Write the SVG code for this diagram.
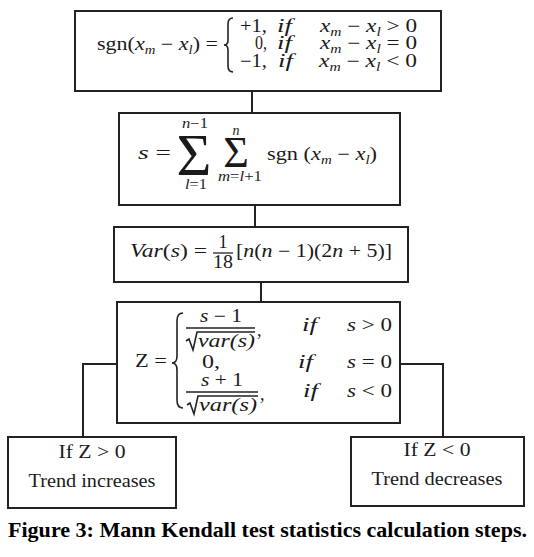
<svg xmlns="http://www.w3.org/2000/svg" width="534" height="557" viewBox="0 0 534 557">
<style>
.b{fill:#fff;stroke:#222;stroke-width:2}
.c{fill:none;stroke:#222;stroke-width:2}
.br{fill:none;stroke:#222;stroke-width:1.6}
.m{font-family:"Liberation Serif",serif;font-size:18px;fill:#1a1a1a}
.sm{font-family:"Liberation Serif",serif;font-size:14px;fill:#1a1a1a}
.i{font-style:italic}
.cap{font-family:"Liberation Serif",serif;font-size:22px;font-weight:bold;fill:#000}
</style>
<rect width="534" height="557" fill="#fff"/>
<g id="connectors">
<path class="c" d="M252,91 V113"/>
<path class="c" d="M255,205 V227"/>
<path class="c" d="M261,282 V302"/>
<path class="c" d="M117,364 H83 V437"/>
<path class="c" d="M400,364 H443 V437"/>
</g>
<g id="sgn">
<rect class="b" x="75" y="11" width="366" height="80"/>
<text class="m" x="97" y="50" textLength="121" lengthAdjust="spacingAndGlyphs">sgn(<tspan class="i">x</tspan><tspan class="i" font-size="12" dy="4">m</tspan><tspan dy="-4"> − </tspan><tspan class="i">x</tspan><tspan class="i" font-size="12" dy="4">l</tspan><tspan dy="-4">) =</tspan></text>
<path class="br" d="M233,18 Q228,18 228,24 L228,40 Q228,45 224,45 Q228,45 228,50 L228,66 Q228,72 233,72"/>
<text class="m" x="240" y="32" textLength="27" lengthAdjust="spacingAndGlyphs">+1,</text><text class="m i" x="277" y="32" textLength="15" lengthAdjust="spacingAndGlyphs">if</text>
<text class="m" x="255" y="49" textLength="12" lengthAdjust="spacingAndGlyphs">0,</text><text class="m i" x="277" y="49" textLength="15" lengthAdjust="spacingAndGlyphs">if</text>
<text class="m" x="240" y="67" textLength="27" lengthAdjust="spacingAndGlyphs">−1,</text><text class="m i" x="278" y="67" textLength="15" lengthAdjust="spacingAndGlyphs">if</text>
<text class="m" x="320" y="32" textLength="97" lengthAdjust="spacingAndGlyphs"><tspan class="i">x</tspan><tspan class="i" font-size="12" dy="4">m</tspan><tspan dy="-4"> − </tspan><tspan class="i">x</tspan><tspan class="i" font-size="12" dy="4">l</tspan><tspan dy="-4"> &gt; 0</tspan></text>
<text class="m" x="320" y="49" textLength="97" lengthAdjust="spacingAndGlyphs"><tspan class="i">x</tspan><tspan class="i" font-size="12" dy="4">m</tspan><tspan dy="-4"> − </tspan><tspan class="i">x</tspan><tspan class="i" font-size="12" dy="4">l</tspan><tspan dy="-4"> = 0</tspan></text>
<text class="m" x="319" y="67" textLength="98" lengthAdjust="spacingAndGlyphs"><tspan class="i">x</tspan><tspan class="i" font-size="12" dy="4">m</tspan><tspan dy="-4"> − </tspan><tspan class="i">x</tspan><tspan class="i" font-size="12" dy="4">l</tspan><tspan dy="-4"> &lt; 0</tspan></text>
</g>
<g id="sum">
<rect class="b" x="119" y="113" width="281" height="92"/>
<text class="m" x="138" y="159" textLength="33" lengthAdjust="spacingAndGlyphs"><tspan class="i">s</tspan> =</text>
<text x="194" y="175" text-anchor="middle" font-family="Liberation Serif,serif" font-size="60" fill="#1a1a1a">Σ</text>
<text class="sm" x="195" y="128" text-anchor="middle" textLength="26" lengthAdjust="spacingAndGlyphs"><tspan class="i">n</tspan>−1</text>
<text class="sm" x="196" y="189" text-anchor="middle" textLength="22" lengthAdjust="spacingAndGlyphs"><tspan class="i">l</tspan>=1</text>
<text x="236" y="167" text-anchor="middle" font-family="Liberation Serif,serif" font-size="44" fill="#1a1a1a">Σ</text>
<text class="sm i" x="236" y="135" text-anchor="middle">n</text>
<text class="sm" x="240" y="181" text-anchor="middle" textLength="44" lengthAdjust="spacingAndGlyphs"><tspan class="i">m</tspan>=<tspan class="i">l</tspan>+1</text>
<text class="m" x="267" y="160" textLength="110" lengthAdjust="spacingAndGlyphs">sgn (<tspan class="i">x</tspan><tspan class="i" font-size="12" dy="4">m</tspan><tspan dy="-4"> − </tspan><tspan class="i">x</tspan><tspan class="i" font-size="12" dy="4">l</tspan><tspan dy="-4">)</tspan></text>
</g>
<g id="var">
<rect class="b" x="114" y="227" width="294" height="55"/>
<text class="m" x="130" y="257" textLength="77" lengthAdjust="spacingAndGlyphs"><tspan class="i">Var</tspan>(<tspan class="i">s</tspan>) =</text>
<text class="m" x="223" y="248" text-anchor="middle">1</text>
<path d="M213,253 H233" stroke="#222" stroke-width="1.3"/>
<text class="m" x="223" y="268" text-anchor="middle" textLength="20" lengthAdjust="spacingAndGlyphs">18</text>
<text class="m" x="236" y="257" textLength="156" lengthAdjust="spacingAndGlyphs">[<tspan class="i">n</tspan>(<tspan class="i">n</tspan> − 1)(2<tspan class="i">n</tspan> + 5)]</text>
</g>
<g id="z">
<rect class="b" x="117" y="302" width="283" height="121"/>
<text class="m" x="135" y="367" textLength="32" lengthAdjust="spacingAndGlyphs">Z =</text>
<path class="br" d="M183,313 Q177,313 177,321 L177,356 Q177,363 172,363 Q177,363 177,370 L177,400 Q177,408 183,408"/>
<text class="m" x="221" y="322" text-anchor="middle" textLength="42" lengthAdjust="spacingAndGlyphs"><tspan class="i">s</tspan> − 1</text>
<path d="M186,328 H255" stroke="#222" stroke-width="1.3"/>
<path class="br" d="M186,341 L189,339 L193,350 L197,332 H255"/>
<text class="m i" x="198" y="347" textLength="57" lengthAdjust="spacingAndGlyphs">var(s)</text>
<text class="m" x="257" y="336">,</text>
<text class="m i" x="302" y="331" textLength="15" lengthAdjust="spacingAndGlyphs">if</text>
<text class="m" x="347" y="331" textLength="45" lengthAdjust="spacingAndGlyphs"><tspan class="i">s</tspan> &gt; 0</text>
<text class="m" x="211" y="368" text-anchor="middle" textLength="18" lengthAdjust="spacingAndGlyphs">0,</text>
<text class="m i" x="298" y="368" textLength="15" lengthAdjust="spacingAndGlyphs">if</text>
<text class="m" x="347" y="368" textLength="45" lengthAdjust="spacingAndGlyphs"><tspan class="i">s</tspan> = 0</text>
<text class="m" x="222" y="386" text-anchor="middle" textLength="42" lengthAdjust="spacingAndGlyphs"><tspan class="i">s</tspan> + 1</text>
<path d="M186,392 H258" stroke="#222" stroke-width="1.3"/>
<path class="br" d="M187,405 L190,403 L194,414 L198,396 H258"/>
<text class="m i" x="199" y="411" textLength="58" lengthAdjust="spacingAndGlyphs">var(s)</text>
<text class="m" x="260" y="400">,</text>
<text class="m i" x="303" y="397" textLength="15" lengthAdjust="spacingAndGlyphs">if</text>
<text class="m" x="347" y="397" textLength="45" lengthAdjust="spacingAndGlyphs"><tspan class="i">s</tspan> &lt; 0</text>
</g>
<g id="increase">
<rect class="b" x="8" y="437" width="168" height="71"/>
<text class="m" x="92" y="458" text-anchor="middle" textLength="67" lengthAdjust="spacingAndGlyphs">If  Z &gt; 0</text>
<text class="m" x="92" y="487" text-anchor="middle" textLength="127" lengthAdjust="spacingAndGlyphs">Trend increases</text>
</g>
<g id="decrease">
<rect class="b" x="351" y="437" width="173" height="69"/>
<text class="m" x="437" y="456" text-anchor="middle" textLength="67" lengthAdjust="spacingAndGlyphs">If  Z &lt; 0</text>
<text class="m" x="437" y="485" text-anchor="middle" textLength="131" lengthAdjust="spacingAndGlyphs">Trend decreases</text>
</g>
<text class="cap" x="8" y="537" textLength="519" lengthAdjust="spacingAndGlyphs">Figure 3: Mann Kendall test statistics calculation steps.</text>
</svg>
